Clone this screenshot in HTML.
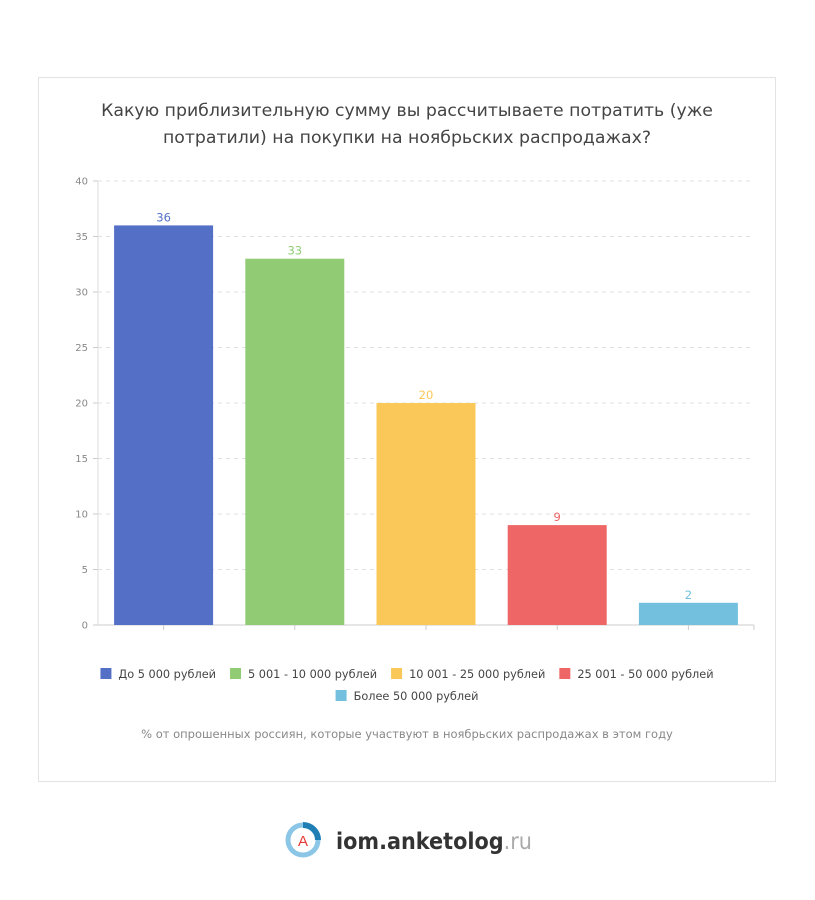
<!DOCTYPE html>
<html><head><meta charset="utf-8"><style>
body{margin:0;background:#fff;font-family:"DejaVu Sans","Liberation Sans",sans-serif;}
#frame{position:absolute;left:38px;top:77px;width:738px;height:705px;border:1px solid #e3e3e3;box-sizing:border-box;}
</style></head><body>
<div id="frame"></div>
<svg width="815" height="900" style="position:absolute;left:0;top:0">
<text x="407" y="116" text-anchor="middle" font-size="17.3" fill="#444">Какую приблизительную сумму вы рассчитываете потратить (уже</text>
<text x="407" y="143" text-anchor="middle" font-size="17.3" fill="#444">потратили) на покупки на ноябрьских распродажах?</text>
<g id="grid"></g><g id="bars"></g><g id="legend"></g>
<text x="407" y="738" text-anchor="middle" font-size="11.5" fill="#888">% от опрошенных россиян, которые участвуют в ноябрьских распродажах в этом году</text>
<g>
<circle cx="303" cy="840" r="15" fill="none" stroke="#8cc6e6" stroke-width="5"/>
<path d="M303 825 A15 15 0 0 1 318 840" fill="none" stroke="#1f7fb5" stroke-width="6"/>
<circle cx="303" cy="840" r="10" fill="#fff"/>
<text x="303" y="846" text-anchor="middle" font-size="15" fill="#e53935" font-family="Liberation Sans,sans-serif">A</text>
<text x="336" y="849" font-size="23" font-weight="bold" fill="#333" textLength="196" lengthAdjust="spacingAndGlyphs">iom.anketolog<tspan fill="#aaa" font-weight="normal">.ru</tspan></text>
</g>
</svg>
<script>
const categories=["До 5 000 рублей","5 001 - 10 000 рублей","10 001 - 25 000 рублей","25 001 - 50 000 рублей","Более 50 000 рублей"];
const values=[36,33,20,9,2];
const colors=["#5470c6","#91cc75","#fac858","#ee6666","#73c0de"];
const yTicks=[0,5,10,15,20,25,30,35,40];
const NS="http://www.w3.org/2000/svg";
const x0=98,x1=754,y0=625,yTop=181,yMax=40;
const y=v=>y0-(y0-yTop)*v/yMax;
const bw=(x1-x0)/categories.length;
const xc=i=>x0+bw*(i+0.5);
function mk(t,a,p){const e=document.createElementNS(NS,t);for(const k in a)e.setAttribute(k,a[k]);p.appendChild(e);return e;}
const g=document.getElementById('grid');
yTicks.forEach(t=>{
 if(t>0){const l=mk('line',{x1:x0,x2:x1,y1:y(t),y2:y(t),stroke:'#e0e0e0','stroke-dasharray':'4,4'},g);
 
 }
 const tx=mk('text',{x:x0-10,y:y(t)+3.5,'text-anchor':'end','font-size':10,fill:'#888'},g);tx.textContent=t;
 
 
 mk('line',{x1:x0-5,x2:x0,y1:y(t),y2:y(t),stroke:'#ccc'},g);
});
mk('line',{x1:x0,x2:x0,y1:yTop,y2:y0,stroke:'#ddd'},g);
mk('line',{x1:x0,x2:x1,y1:y0,y2:y0,stroke:'#ccc'},g);
for(let i=0;i<categories.length;i++)mk('line',{x1:xc(i),x2:xc(i),y1:y0,y2:y0+5,stroke:'#ccc'},g);
mk('line',{x1:x1,x2:x1,y1:y0,y2:y0+5,stroke:'#ccc'},g);
const b=document.getElementById('bars');
values.forEach((v,i)=>{
 const r=mk('rect',{x:xc(i)-49.5,y:y(v),width:99,height:y0-y(v),fill:colors[i]},b);
 
 
 const t=mk('text',{x:xc(i),y:y(v)-4,'text-anchor':'middle','font-size':11.5,fill:colors[i]},b);t.textContent=v;
 
 
});
const lg=document.getElementById('legend');
const rows=[[0,1,2,3],[4]];
const fs=11.3;
rows.forEach((row,ri)=>{
 const ctx=document.createElement('canvas').getContext('2d');ctx.font=fs+'px "DejaVu Sans"';
 const ws=row.map(i=>18+ctx.measureText(categories[i]).width);
 const gap=14,total=ws.reduce((a,b)=>a+b,0)+gap*(row.length-1);
 let x=407-total/2;const yy=674+ri*22;
 row.forEach((i,k)=>{
  const e=mk('g',{},lg);
  
  
  mk('rect',{x:x,y:yy-6,width:11,height:11,fill:colors[i]},e);
  const t=mk('text',{x:x+18,y:yy+4,'font-size':fs,fill:'#444'},e);t.textContent=categories[i];
  x+=ws[k]+gap;
 });
});
</script>
</body></html>
